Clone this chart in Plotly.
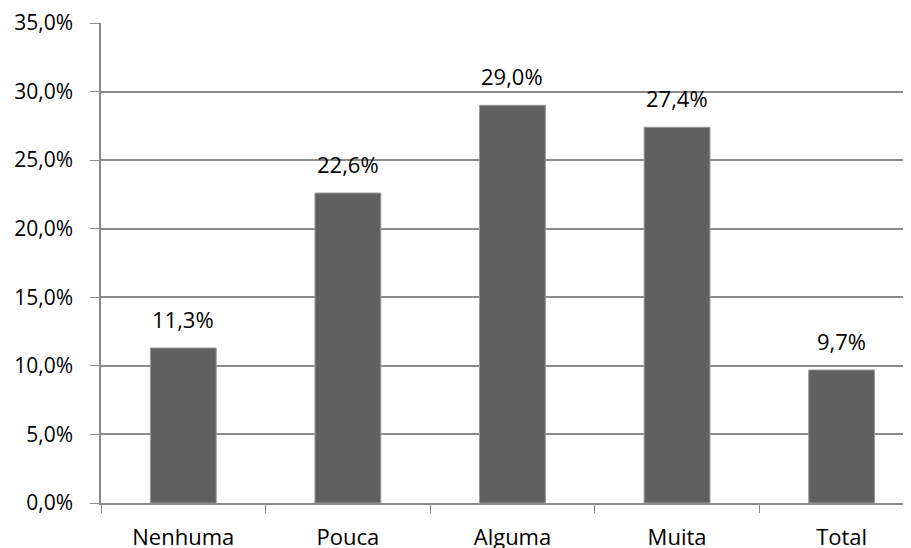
import plotly.graph_objects as go

categories = ["Nenhuma", "Pouca", "Alguma", "Muita", "Total"]
values = [0.113, 0.226, 0.290, 0.274, 0.097]
y_ticks = [0, 0.05, 0.10, 0.15, 0.20, 0.25, 0.30, 0.35]

font_family = "Open Sans"
grid_col = "#8a8a8a"

fig = go.Figure()
fig.add_trace(go.Bar(
    x=categories, y=values, width=0.4,
    marker=dict(color="#606060", line=dict(color="#9a9a9a", width=1)),
))

for c, v in zip(categories, values):
    fig.add_annotation(x=c, y=v, text=f"{v*100:.1f}".replace(".", ",") + "%",
                       showarrow=False, yanchor="bottom", yshift=12,
                       font=dict(family=font_family, size=22, color="#000000"))

fig.update_layout(
    width=911, height=548,
    margin=dict(l=93, r=0, t=15, b=53),
    paper_bgcolor="white", plot_bgcolor="white",
    separators=",.",
    showlegend=False,
    font=dict(family=font_family, size=21, color="#000000"),
    bargap=0.6,
)
fig.update_xaxes(
    type="category", range=[-0.5, 4.47],
    tickson="boundaries", ticks="outside", ticklen=8, tickcolor=grid_col, tickwidth=1,
    showline=True, linecolor=grid_col, linewidth=1.5,
    showgrid=False, ticklabelstandoff=14,
    tickfont=dict(family=font_family, size=22),
)
fig.update_yaxes(
    range=[0, 0.35], tickvals=y_ticks, tickformat=".1%",
    ticks="outside", ticklen=9, tickcolor=grid_col, tickwidth=1,
    showline=True, linecolor=grid_col, linewidth=1.5,
    showgrid=True, gridcolor=grid_col, gridwidth=1.5,
    zeroline=False, ticklabelstandoff=13,
    tickfont=dict(family=font_family, size=21),
)

fig.write_html("out.html")
